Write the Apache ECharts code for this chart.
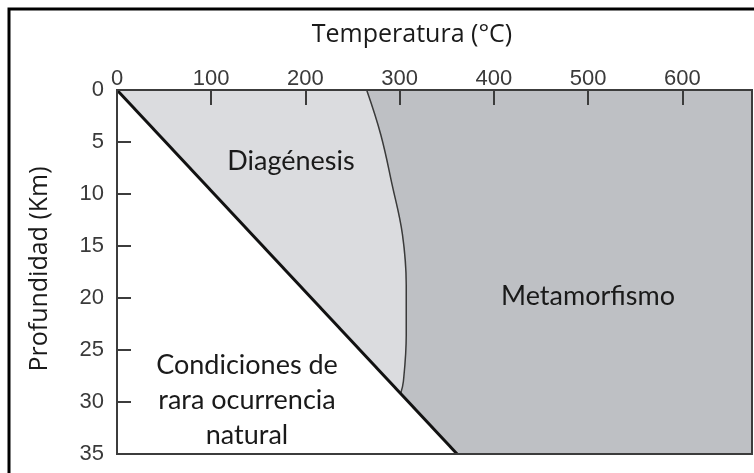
<!DOCTYPE html>
<html>
<head>
<meta charset="utf-8">
<script src="https://cdn.jsdelivr.net/npm/echarts@6/dist/echarts.min.js"></script>
<style>html,body{margin:0;padding:0;background:#fff;}#c{width:754px;height:473px;}</style>
</head>
<body>
<div id="c"></div>
<script>
// ---- data ----
const tempTicks = [0, 100, 200, 300, 400, 500, 600];
const depthTicks = [0, 5, 10, 15, 20, 25, 30, 35];
const tempMax = 674;
const depthMax = 35;
// geotherm line (boundary of "rara ocurrencia natural")
const geothermT = [0, 361];
const geothermD = [0, 35];
// diagenesis / metamorphism boundary
const boundaryT = [265, 280, 292, 303, 307, 307, 304, 301];
const boundaryD = [0, 4.3, 9.1, 13.9, 18.75, 23.6, 28.0, 29.2];
const regionNames = ['Diagénesis', 'Metamorfismo', 'Condiciones de\nrara ocurrencia\nnatural'];
const xTitle = 'Temperatura (°C)';
const yTitle = 'Profundidad (Km)';

const zip = (a, b) => a.map((v, i) => [v, b[i]]);
const geothermData = zip(geothermT, geothermD);
const boundaryData = zip(boundaryT, boundaryD);

const chart = echarts.init(document.getElementById('c'));
const tickFont = "Liberation Sans";
const textFont = "Lato, 'Open Sans', sans-serif";
const titleFont = "'Open Sans', Lato, sans-serif";

chart.setOption({
  animation: false,
  grid: { left: 117, top: 90, width: 635, height: 364, show: true, borderColor: '#3c3c3c', borderWidth: 2, backgroundColor: 'transparent', z: 10 },
  xAxis: {
    type: 'value', position: 'top', min: 0, max: tempMax, interval: 100, z: 10,
    axisLine: { show: true, lineStyle: { color: '#3c3c3c', width: 2 } },
    axisTick: { show: true, inside: true, length: 15, lineStyle: { color: '#3c3c3c', width: 2 } },
    axisLabel: { margin: 0, fontSize: 22, color: '#3a3a3a', fontFamily: tickFont, showMaxLabel: false,
      formatter: v => tempTicks.includes(v) ? String(v) : '' },
    splitLine: { show: false }
  },
  yAxis: {
    type: 'value', inverse: true, min: 0, max: depthMax, interval: 5, z: 10,
    axisLine: { show: true, lineStyle: { color: '#3c3c3c', width: 2 } },
    axisTick: { show: true, inside: true, length: 14, lineStyle: { color: '#3c3c3c', width: 2 } },
    axisLabel: { margin: 13, fontSize: 22, color: '#3a3a3a', fontFamily: tickFont, padding: [4, 0, 0, 0],
      formatter: v => depthTicks.includes(v) ? String(v) : '' },
    splitLine: { show: false }
  },
  series: [
    {
      type: 'custom', z: 1, silent: true, clip: true,
      data: [0],
      renderItem: (params, api) => {
        const c = p => api.coord(p);
        const full = [[0, 0], [tempMax, 0], [tempMax, depthMax], [0, depthMax]].map(c);
        const diag = [[0, 0]].concat(boundaryData).map(c);
        const white = [[geothermT[0], geothermD[0]], [geothermT[1], geothermD[1]], [0, depthMax]].map(c);
        return { type: 'group', children: [
          { type: 'polygon', shape: { points: full }, style: { fill: '#bec0c4' } },
          { type: 'polygon', shape: { points: diag }, style: { fill: '#dbdcdf' } },
          { type: 'polygon', shape: { points: white }, style: { fill: '#ffffff' } }
        ]};
      }
    },
    {
      type: 'line', z: 3, data: boundaryData, showSymbol: false, smooth: 0.4,
      lineStyle: { color: '#3a3a3a', width: 1.5 }
    },
    {
      type: 'line', z: 4, data: geothermData, showSymbol: false,
      lineStyle: { color: '#111', width: 3 }
    }
  ],
  graphic: [
    { type: 'rect', z: 100, shape: { x: 9, y: 9, width: 800, height: 500 }, style: { fill: 'none', stroke: '#000', lineWidth: 3 } },
    { type: 'text', z: 100, x: 412, y: 35, style: { text: xTitle, font: "25px " + titleFont, fill: '#1a1a1a', textAlign: 'center', textVerticalAlign: 'middle' } },
    { type: 'text', z: 100, x: 40, y: 269, rotation: Math.PI / 2, style: { text: yTitle, font: "25px " + titleFont, fill: '#1a1a1a', textAlign: 'center', textVerticalAlign: 'middle' } },
    { type: 'text', z: 100, x: 291, y: 161, style: { text: regionNames[0], font: "27px " + textFont, fill: '#1a1a1a', textAlign: 'center', textVerticalAlign: 'middle' } },
    { type: 'text', z: 100, x: 588, y: 296, style: { text: regionNames[1], font: "27px " + textFont, fill: '#1a1a1a', textAlign: 'center', textVerticalAlign: 'middle' } },
    { type: 'text', z: 100, x: 247, y: 400, style: { text: regionNames[2], font: "27px " + textFont, lineHeight: 35, fill: '#1a1a1a', textAlign: 'center', textVerticalAlign: 'middle' } }
  ]
});
</script>
</body>
</html>
